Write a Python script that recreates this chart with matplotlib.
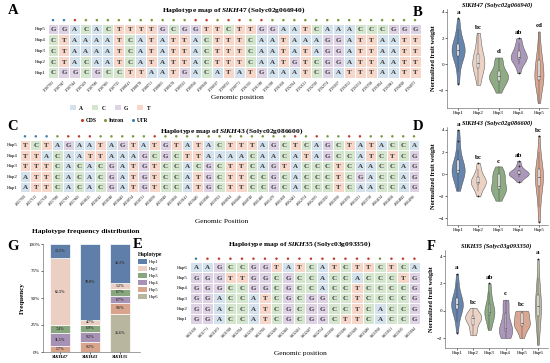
import matplotlib
matplotlib.use('Agg')
import matplotlib.pyplot as plt
from matplotlib.colors import ListedColormap
from matplotlib.patches import Patch
from matplotlib.lines import Line2D
import numpy as np

plt.rcParams['font.family'] = 'Liberation Serif'
plt.rcParams['mathtext.fontset'] = 'custom'
plt.rcParams['mathtext.it'] = 'Liberation Serif:italic:bold'
plt.rcParams['mathtext.rm'] = 'Liberation Serif:bold'

# ---- haplotype maps ----
A_haps = ['Hap5', 'Hap4', 'Hap3', 'Hap2', 'Hap1']
A_seqs = ['GGACACTTTTGCGGTTCTTGG' + 'AATCAAACCCGGG',
          'CTAAAATCATATTACTTTCAA' + 'TAAAGGATTAATT',
          'CTAAAATCATATTACTTTCAA' + 'TATAGGATTAATT',
          'CTACAATCATATTACTTTCAA' + 'TGTCGGATTAATT',
          'CGGCGCCTTAATGACATATGA' + 'AATCGATTTAATT']
A_kind = 'UUR' + 'I' * 10 + 'RRIRRIRI' + 'I' * 13
A_pos = ['37187033', '37187047', '37187344', '37187459', '37187580', '37187605', '37187725',
         '37188141', '37188178', '37188751', '37188855', '37189278', '37189313', '37189566',
         '37189630', '37190337', '37190532', '37190771', '37191005', '37191388', '37191398',
         '37191658', '37192014', '37192131', '37192320', '37192574', '37193007', '37193152',
         '37193374', '37193768', '37193824', '37193981', '37194028', '37194073']

C_haps = ['Hap5', 'Hap4', 'Hap3', 'Hap2', 'Hap1']
C_seqs = ['TCTAGAATAGTATGTATACTTTAG' + 'CTCAGCTATACCA',
          'TTACAATTAAAGCGCTTAAAACAA' + 'CATAGCCATCTCG',
          'TTTCACACGATGTCCACGCTTCAG' + 'TACCCTCAACCAG',
          'ATTCACACGATGTCCATGCTTCCG' + 'CACCCTCGACCAG',
          'ATTCACACGATGTCCATGCTTCCG' + 'CACCCTCAACCAG']
C_kind = 'UUUIRRR' + 'IIIII' + 'R' + 'I' * 11 + 'IRIRIIRR' + 'IIIII'
C_pos = ['49257069', '49257113', '49257120', '49257580', '49257681', '49257805', '49258125',
         '49258342', '49258348', '49258443', '49258534', '49258731', '49258970', '49259049',
         '49259106', '49259141', '49259485', '49259580', '49259703', '49260024', '49260490',
         '49260740', '49261406', '49261479', '49261858', '49262481', '49262574', '49262975',
         '49263025', '49263060', '49263076', '49263231', '49263758', '49264134', '49264658',
         '49264843', '49264936']

E_haps = ['Hap6', 'Hap5', 'Hap4', 'Hap3', 'Hap2', 'Hap1']
E_seqs = ['AAGCCGGTATCATCTTCTCA',
          'GGGTTGGCGCCACCACCCTG',
          'GGGCCGGCGCCACCTCCCCG',
          'GGACCATCGCGGCCTCCCCG',
          'GGACCATCGCGGCCTCACCG',
          'GGACCATCGCGGCTTCACCG']
E_kind = 'U' + 'R' * 15 + 'I' + 'RRR'
E_pos = ['54631630', '54631771', '54631873', '54631918', '54632024', '54632298', '54632366',
         '54632430', '54632466', '54632491', '54632497', '54632554', '54633016', '54633286',
         '54633430', '54633486', '54633500', '54633621', '54633635', '54633644']

# ---- fruit weight per haplotype ----
B_hap1 = [-1.5, -0.6, 0.2, 0.5, 0.7, 0.9, 1.0, 1.0, 1.1, 1.2, 1.3, 1.5, 1.8, 2.2, 2.7, 3.5]
B_hap2 = [-1.6, -1.0, -0.6, -0.3, 0.0, 0.0, 0.1, 0.3, 0.5, 0.8, 1.2, 1.8, 2.4]
B_hap3 = [-2.2, -1.7, -1.6, -1.5, -1.1, -1.0, -1.0, -0.9, -0.9, -0.8, -0.7, -0.3, 0.2, 0.3, 0.5]
B_hap4 = [-0.7, 0.0, 0.3, 0.4, 0.5, 0.5, 0.6, 0.7, 0.9, 1.3, 1.6, 2.0]
B_hap5 = [-3.0, -2.0, -1.5, -1.2, -1.0, -1.0, -0.9, -0.5, 0.0, 0.3, 0.5, 1.2, 2.5]
B_sig = ['a', 'bc', 'd', 'ab', 'cd']

D_hap1 = [-1.5, -0.8, -0.3, 0.0, 0.2, 0.3, 0.3, 0.4, 0.5, 0.7, 1.0, 1.5, 2.2, 3.0, 4.0]
D_hap2 = [-2.0, -1.5, -1.2, -0.9, -0.8, -0.7, -0.7, -0.6, -0.5, -0.3, 0.0, 0.5, 1.0]
D_hap3 = [-2.4, -2.0, -1.6, -1.4, -1.3, -1.3, -1.2, -1.0, -0.5, -0.1, 0.0, 0.0, 0.2, 0.7]
D_hap4 = [-0.7, -0.3, -0.1, 0.0, 0.0, 0.0, 0.1, 0.1, 0.2, 0.4, 0.7, 1.2]
D_hap5 = [-4.3, -3.0, -2.0, -1.2, -0.8, -0.5, -0.3, -0.2, 0.0, 0.3, 0.5, 1.0, 2.0, 3.5]
D_sig = ['a', 'bc', 'c', 'ab', 'bc']

F_hap1 = [-1.6, -0.8, -0.3, 0.0, 0.2, 0.3, 0.4, 0.5, 0.5, 0.6, 0.8, 1.0, 1.4, 2.0, 2.7]
F_hap2 = [-1.8, -1.5, -1.4, -0.9, -0.7, -0.6, -0.5, -0.5, -0.4, -0.3, -0.1, 0.2]
F_hap3 = [-1.4, -0.9, -0.6, -0.3, -0.2, -0.1, -0.1, 0.0, 0.2, 0.5, 0.9, 1.4, 2.0]
F_hap4 = [-2.0, -1.8, -1.6, -1.5, -1.5, -1.4, -1.3, -1.1, -0.7, -0.2, 0.5, 0.6, 0.8]
F_hap5 = [-2.0, -1.6, -1.2, -1.1, -1.0, -1.0, -0.9, -0.7, -0.4, -0.2, -0.1, -0.1, 0.0]
F_hap6 = [-2.5, -1.5, -0.8, -0.3, 0.0, 0.3, 0.4, 0.6, 1.0, 1.6, 2.4, 3.8]
F_sig = ['a', 'bc', 'ab', 'c', 'bc', 'a']

# ---- haplotype frequency (%) ----
genes = ['SlKH47', 'SlKH43', 'SlKH35']
freq_hap1 = [13.1, 70.0, 36.3]
freq_hap2 = [62.3, 4.7, 5.2]
freq_hap3 = [7.4, 6.9, 6.7]
freq_hap4 = [11.5, 9.2, 6.7]
freq_hap5 = [5.7, 9.2, 9.6]
freq_hap6 = [0.0, 0.0, 35.6]

cell_colors = ['#d3e2ec', '#d5e6cf', '#ded2e5', '#f6d7ca']
base_code = {'A': 0, 'C': 1, 'G': 2, 'T': 3}
dot_col = {'R': '#c23b2e', 'I': '#76993c', 'U': '#3b7fa8'}
hap_cols = ['#5f7ea9', '#ebcfc2', '#88a77e', '#a792b6', '#d8a48c', '#b9b69f']

fig = plt.figure(figsize=(5.5, 3.63), dpi=100)


def px_axes(x0, y0, x1, y1):
    return fig.add_axes([x0 / 550, 1 - y1 / 363, (x1 - x0) / 550, (y1 - y0) / 363])


def draw_map(ax, haps, seqs, pos, kinds):
    grid = np.array([[base_code[b] for b in s] for s in seqs])
    nr, nc = grid.shape
    ax.pcolormesh(grid, cmap=ListedColormap(cell_colors), vmin=-0.5, vmax=3.5,
                  edgecolors='white', linewidth=0.6)
    for r, s in enumerate(seqs):
        for c, b in enumerate(s):
            ax.text(c + 0.5, r + 0.52, b, ha='center', va='center_baseline',
                    fontsize=5, fontweight='bold', color='#3a3a3a')
    ax.set_xlim(0, nc)
    ax.set_ylim(nr, 0)
    ax.set_yticks(np.arange(nr) + 0.5, haps, fontsize=3.6)
    ax.set_xticks(np.arange(nc) + 0.5, pos, rotation=45, ha='right',
                  rotation_mode='anchor', fontsize=2.5)
    ax.tick_params(length=0, pad=1.5)
    for sp in ax.spines.values():
        sp.set_visible(False)
    ax.scatter(np.arange(nc) + 0.5, np.full(nc, -0.32), s=3.2,
               c=[dot_col[k] for k in kinds], clip_on=False, linewidths=0)


def draw_violin(ax, groups, sig, widths, title, ylim, yticks, xlim):
    pos = np.arange(1, len(groups) + 1)
    vp = ax.violinplot(groups, positions=pos, widths=widths, showextrema=False)
    for body, c in zip(vp['bodies'], hap_cols):
        body.set_facecolor(c)
        body.set_edgecolor('#4a4a4a')
        body.set_linewidth(0.35)
        body.set_alpha(0.95)
    ax.boxplot(groups, positions=pos, widths=0.1, patch_artist=True, showcaps=False,
               boxprops=dict(facecolor='white', edgecolor='#333333', linewidth=0.3),
               medianprops=dict(color='#333333', linewidth=0.5),
               whiskerprops=dict(color='#333333', linewidth=0.3),
               flierprops=dict(marker='o', markersize=1.3, markerfacecolor='#222222',
                               markeredgewidth=0))
    for p, g, s in zip(pos, groups, sig):
        ax.text(p, max(g) + 0.25, s, ha='center', va='bottom', fontsize=5, fontweight='bold')
    ax.set_xlim(*xlim)
    ax.set_ylim(*ylim)
    ax.set_yticks(yticks)
    ax.set_xticks(pos, ['Hap%d' % i for i in pos])
    ax.tick_params(labelsize=3.6, length=1.2, width=0.4, pad=1)
    ax.set_ylabel('Normalized fruit weight', fontsize=4.6, fontweight='bold', labelpad=2)
    ax.set_title(title, fontsize=4.6, fontweight='bold', fontstyle='italic', pad=1.5)
    for sp in ['top', 'right']:
        ax.spines[sp].set_visible(False)
    for sp in ['left', 'bottom']:
        ax.spines[sp].set_linewidth(0.4)
        ax.spines[sp].set_color('#555555')


# A
axA = px_axes(47.5, 23.6, 420.5, 77.5)
draw_map(axA, A_haps, A_seqs, A_pos, A_kind)
fig.text(234 / 550, 1 - 10 / 363, r'Haplotype map of $\mathit{SlKH47}$ (Solyc02g066940)',
         ha='center', va='center', fontsize=5.4, fontweight='bold')
fig.text(237 / 550, 1 - 98 / 363, 'Genomic position', ha='center', va='center', fontsize=5.3)

# legends between A and C
base_handles = [Patch(facecolor=c, edgecolor='none') for c in cell_colors]
lg1 = fig.legend(base_handles, ['A', 'C', 'G', 'T'], loc='center', ncol=4,
                 bbox_to_anchor=(110 / 550, 1 - 108 / 363), frameon=False,
                 prop={'size': 4, 'weight': 'bold'}, handlelength=1.1, handleheight=1.0,
                 handletextpad=0.6, columnspacing=1.6, borderpad=0)
kind_handles = [Line2D([], [], marker='o', linestyle='none', markersize=2.2,
                       markerfacecolor=dot_col[k], markeredgewidth=0) for k in 'RIU']
lg2 = fig.legend(kind_handles, ['CDS', 'Intron', 'UTR'], loc='center', ncol=3,
                 bbox_to_anchor=(114 / 550, 1 - 120 / 363), frameon=False,
                 prop={'size': 4, 'weight': 'bold'}, handlelength=0.8,
                 handletextpad=0.3, columnspacing=1.2, borderpad=0)

# C
axC = px_axes(19.6, 139.7, 419.4, 192.3)
draw_map(axC, C_haps, C_seqs, C_pos, C_kind)
fig.text(232 / 550, 1 - 131 / 363, r'Haplotype map of $\mathit{SlKH43}$ (Solyc02g086600)',
         ha='center', va='center', fontsize=5.4, fontweight='bold')
fig.text(222 / 550, 1 - 221 / 363, 'Genomic Position', ha='center', va='center', fontsize=5.3)

# E
axE = px_axes(190.2, 262, 420.2, 324)
draw_map(axE, E_haps, E_seqs, E_pos, E_kind)
fig.text(300 / 550, 1 - 244 / 363, r'Haplotype map of $\mathit{SlKH35}$ (Solyc03g093350)',
         ha='center', va='center', fontsize=5.4, fontweight='bold')
fig.text(300 / 550, 1 - 353 / 363, 'Genomic position', ha='center', va='center', fontsize=5.3)

# B, D, F
axB = px_axes(447, 9, 548, 108)
draw_violin(axB, [B_hap1, B_hap2, B_hap3, B_hap4, B_hap5], B_sig,
            [0.65, 0.6, 0.95, 0.8, 0.45], 'SlKH47 (Solyc02g066940)',
            (-3.38, 4.23), [-2, 0, 2, 4], (0.45, 5.45))
axD = px_axes(447, 127, 548, 225)
draw_violin(axD, [D_hap1, D_hap2, D_hap3, D_hap4, D_hap5], D_sig,
            [0.65, 0.75, 0.75, 1.0, 0.4], 'SlKH43 (Solyc02g086600)',
            (-4.6, 4.27), [-4, -2, 0, 2, 4], (0.45, 5.45))
axF = px_axes(445, 250, 548, 348)
draw_violin(axF, [F_hap1, F_hap2, F_hap3, F_hap4, F_hap5, F_hap6], F_sig,
            [0.72, 1.0, 0.62, 0.82, 1.0, 0.37], 'SlKH35 (Solyc03g093350)',
            (-2.73, 4.44), [-2, 0, 2, 4], (0.26, 6.62))

# G
axG = px_axes(43, 244, 140, 352)
stack = [freq_hap6, freq_hap5, freq_hap4, freq_hap3, freq_hap2, freq_hap1]
stack_cols = hap_cols[::-1]
x = np.arange(len(genes))
bottom = np.zeros(len(genes))
for vals, c in zip(stack, stack_cols):
    v = np.array(vals) / 100
    axG.bar(x, v, 0.67, bottom=bottom, color=c, edgecolor='white', linewidth=0.5)
    for xi, b, h in zip(x, bottom, v):
        if h > 0:
            axG.text(xi, b + h / 2, '%.1f%%' % (h * 100), ha='center', va='center',
                     fontsize=2.8, fontweight='bold', color='#333333')
    bottom += v
axG.set_xlim(-0.57, 2.67)
axG.set_ylim(0, 1)
axG.set_yticks([0, 0.25, 0.5, 0.75, 1.0], ['0%', '25%', '50%', '75%', '100%'])
axG.set_xticks(x, genes, fontstyle='italic', fontweight='bold')
axG.tick_params(labelsize=3.6, length=1.2, width=0.4, pad=1)
axG.set_ylabel('Frequency', fontsize=5, fontweight='bold', labelpad=2)
for sp in ['top', 'right']:
    axG.spines[sp].set_visible(False)
for sp in ['left', 'bottom']:
    axG.spines[sp].set_linewidth(0.4)
    axG.spines[sp].set_color('#555555')
fig.text(86 / 550, 1 - 232 / 363, 'Haplotype frequency distribution', ha='center',
         va='center', fontsize=5.4, fontweight='bold')
hap_handles = [Patch(facecolor=c, edgecolor='none') for c in hap_cols]
lgG = fig.legend(hap_handles, ['Hap%d' % i for i in range(1, 7)], loc='upper left',
                 bbox_to_anchor=(136 / 550, 1 - 250 / 363), frameon=False, fontsize=3.2,
                 title='Haplotype', title_fontsize=4, handlelength=2.0, handleheight=1.3,
                 labelspacing=0.45, handletextpad=0.4, alignment='left', borderpad=0)
lgG.get_title().set_fontweight('bold')

# panel letters
for lab, px, py in [('A', 13, 11), ('C', 13, 127), ('G', 13, 246), ('E', 138, 244),
                    ('B', 418, 12), ('D', 418, 127), ('F', 431, 247)]:
    fig.text(px / 550, 1 - py / 363, lab, ha='center', va='center', fontsize=10.5,
             fontweight='bold')

fig.savefig('out.png', dpi=100)
